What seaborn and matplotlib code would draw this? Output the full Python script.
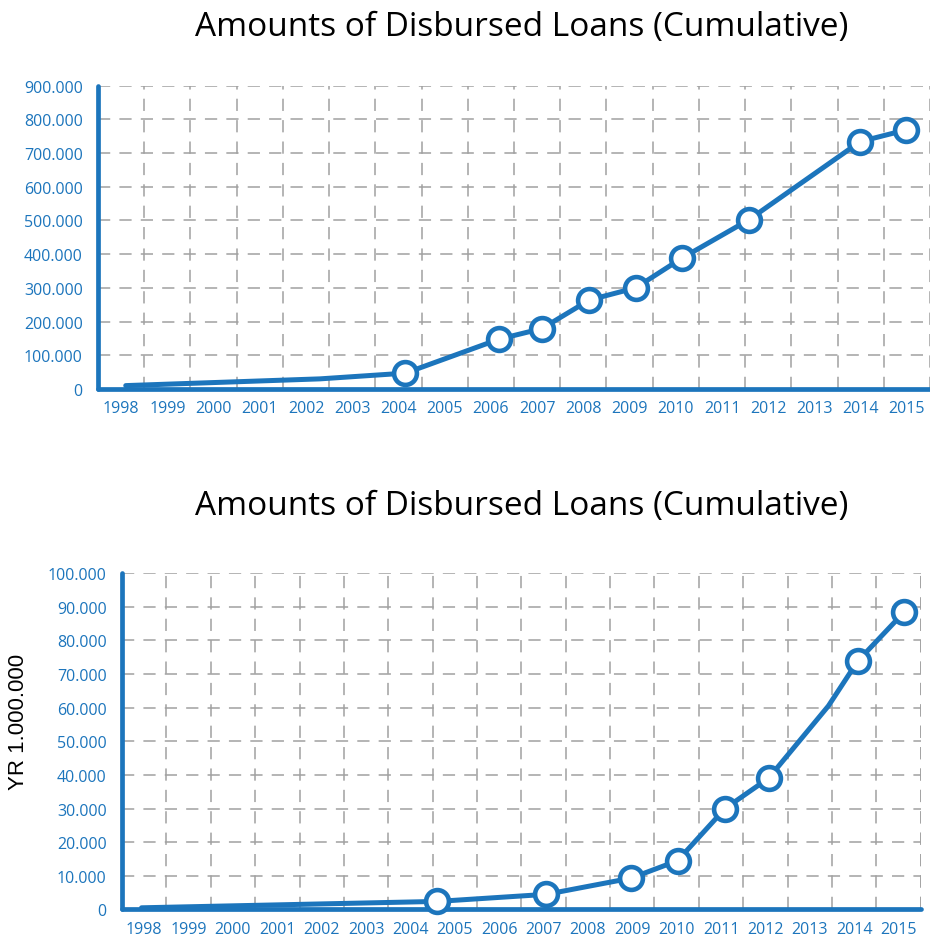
import matplotlib
matplotlib.use("Agg")
import matplotlib.pyplot as plt
from matplotlib import ticker
import numpy as np
import pandas as pd
import seaborn as sns

# Year labels on the x axis
YEARS = list(range(1998, 2016))

# Upper chart: position along the year axis, cumulative amount, marker shown?
TOP_X = [1998.1, 2002.3, 2004.15, 2006.18, 2007.1, 2008.13, 2009.13, 2010.13, 2011.58, 2013.99, 2014.99]
TOP_Y = [10000, 30000, 47000, 148000, 179000, 264000, 300000, 388000, 502000, 734000, 769000]
TOP_MARK = [False, False, True, True, True, True, True, True, True, True, True]

# Lower chart (YR 1.000.000)
BOT_X = [1997.94, 2004.61, 2007.06, 2008.97, 2010.02, 2011.09, 2012.07, 2013.42, 2014.08, 2015.12]
BOT_Y = [500, 2400, 4500, 9300, 14500, 30000, 39000, 60500, 73800, 88300]
BOT_MARK = [False, True, True, True, True, True, True, False, True, True]

TITLE = "Amounts of Disbursed Loans (Cumulative)"
BLUE = "#1c75bc"
GRID = "#a0a0a0"
DASH = (0, (8, 6))


def dotted_thousands(v, pos):
    return "0" if v == 0 else f"{int(round(v)):,}".replace(",", ".")


def draw_panel(ax, xs, ys, marks, ymax, ystep):
    df = pd.DataFrame({"Year": xs, "Amount": ys, "Mark": marks})

    sns.lineplot(data=df, x="Year", y="Amount", color=BLUE, linewidth=3.6,
                 ax=ax, zorder=3, sort=False)
    sns.scatterplot(data=df[df["Mark"]], x="Year", y="Amount", s=270,
                    facecolor="white", edgecolor=BLUE, linewidth=3.3,
                    ax=ax, zorder=4, clip_on=False)

    ax.set_xlim(YEARS[0] - 0.5, YEARS[-1] + 0.5)
    ax.set_ylim(0, ymax)

    ax.set_xticks(YEARS)
    ax.set_xticklabels([str(y) for y in YEARS])
    ax.set_xticks(np.array(YEARS) + 0.5, minor=True)
    ax.set_yticks(np.arange(0, ymax + 1, ystep))
    ax.yaxis.set_major_formatter(ticker.FuncFormatter(dotted_thousands))

    ax.grid(False)
    ax.xaxis.grid(True, which="minor", color=GRID, linestyle=DASH, linewidth=1.1)
    ax.yaxis.grid(True, which="major", color=GRID, linestyle=DASH, linewidth=1.1)
    ax.set_axisbelow(True)

    ax.tick_params(axis="both", which="both", length=0, colors=BLUE, labelsize=11.5)
    ax.tick_params(axis="x", pad=8)
    ax.tick_params(axis="y", pad=11)
    ax.set_xlabel("")
    ax.set_ylabel("")

    for side in ["top", "right"]:
        ax.spines[side].set_visible(False)
    for side in ["left", "bottom"]:
        ax.spines[side].set_color(BLUE)
        ax.spines[side].set_linewidth(3.4)
        ax.spines[side].set_capstyle("round")


sns.set_theme(style="white")
plt.rcParams["font.family"] = ["Open Sans", "DejaVu Sans"]

fig = plt.figure(figsize=(9.3, 9.37), dpi=100)

ax_top = fig.add_axes([0.1054, 0.5838, 0.8946, 0.3237])
draw_panel(ax_top, TOP_X, TOP_Y, TOP_MARK, 900000, 100000)

ax_bot = fig.add_axes([0.1312, 0.0283, 0.8588, 0.3591])
draw_panel(ax_bot, BOT_X, BOT_Y, BOT_MARK, 100000, 10000)
# right border of the lower grid
ax_bot.axvline(YEARS[-1] + 0.5, color=GRID, linestyle=DASH, linewidth=1.1, zorder=1)
ax_bot.set_ylabel("YR 1.000.000", fontsize=16, color="black",
                  family=["Liberation Sans", "DejaVu Sans"])
ax_bot.yaxis.set_label_coords(-0.117, 0.56)

fig.text(0.561, 0.971, TITLE, ha="center", va="center", fontsize=24, color="black")
fig.text(0.561, 0.459, TITLE, ha="center", va="center", fontsize=24, color="black")

fig.savefig("out.png", dpi=100)
